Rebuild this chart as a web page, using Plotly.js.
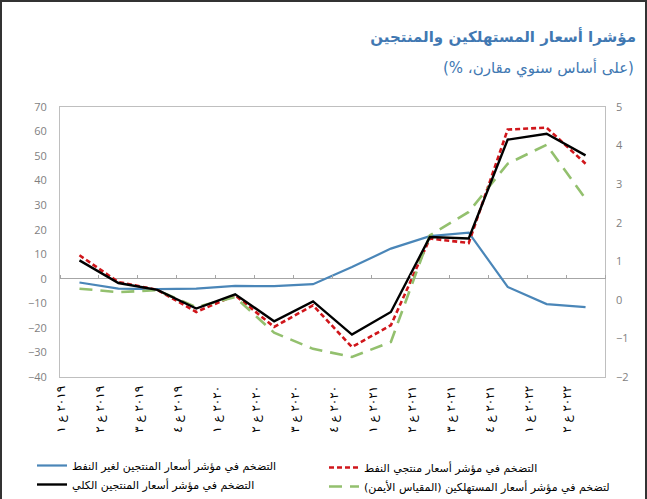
<!DOCTYPE html>
<html>
<head>
<meta charset="utf-8">
<script src="https://cdn.plot.ly/plotly-3.0.1.min.js"></script>
<style>
  html, body { margin: 0; padding: 0; background: #ffffff; }
  #frame { position: absolute; left: 0; top: 0; width: 647px; height: 499px; box-sizing: border-box;
           border-left: 2px solid #333; border-top: 2px solid #333; border-right: 2px solid #333; }
  #chart { position: absolute; left: 0; top: 0; width: 647px; height: 499px; }
</style>
</head>
<body>
<div id="chart"></div>
<div id="frame"></div>
<script>
// Quarter labels (2019 Q1 .. 2022 Q2)
const categories = [
  '٢٠١٩ ع ١', '٢٠١٩ ع ٢', '٢٠١٩ ع ٣', '٢٠١٩ ع ٤',
  '٢٠٢٠ ع ١', '٢٠٢٠ ع ٢', '٢٠٢٠ ع ٣', '٢٠٢٠ ع ٤',
  '٢٠٢١ ع ١', '٢٠٢١ ع ٢', '٢٠٢١ ع ٣', '٢٠٢١ ع ٤',
  '٢٠٢٢ ع ١', '٢٠٢٢ ع ٢'
];

// Producer price inflation, non-oil (left axis, %)
const ppiNonOil = [-1.5, -4.0, -4.2, -4.0, -2.9, -3.0, -2.2, 4.8, 12.3, 17.4, 18.8, -3.3, -10.3, -11.5];
// Producer price inflation, oil (left axis, %)
const ppiOil = [9.6, -1.3, -4.5, -13.5, -6.7, -19.6, -10.8, -27.8, -18.9, 16.4, 14.6, 60.8, 61.6, 46.9];
// Producer price inflation, total (left axis, %)
const ppiTotal = [7.5, -1.7, -4.5, -12.1, -6.3, -17.3, -9.2, -22.7, -13.5, 17.0, 16.4, 56.7, 59.1, 50.3];
// Consumer price inflation (right axis, %)
const cpi = [0.29, 0.20, 0.25, -0.19, 0.07, -0.85, -1.27, -1.48, -1.09, 1.67, 2.28, 3.53, 4.02, 2.62];

const names = {
  nonOil: 'التضخم في مؤشر أسعار المنتجين لغير النفط',
  oil: 'التضخم في مؤشر أسعار منتجي النفط',
  total: 'التضخم في مؤشر أسعار المنتجين الكلي',
  cpi: 'لتضخم في مؤشر أسعار المستهلكين (المقياس الأيمن)'
};

const RLE = '\u202B', PDF = '\u202C';
const titleText = '<b>مؤشرا أسعار المستهلكين والمنتجين</b>';
const subtitleText = RLE + '(على أساس سنوي مقارن، %)' + PDF;

const leftRange = [-40, 70];
const rightRange = [-2, 5];

const traces = [
  { x: categories, y: ppiNonOil, name: RLE + names.nonOil + PDF, type: 'scatter', mode: 'lines',
    line: { color: '#4a86b8', width: 2.2 }, xaxis: 'x', yaxis: 'y', legend: 'legend' },
  { x: categories, y: ppiOil, name: RLE + names.oil + PDF, type: 'scatter', mode: 'lines',
    line: { color: '#d0161b', width: 2.6, dash: '5px,3px' }, xaxis: 'x', yaxis: 'y', legend: 'legend2' },
  { x: categories, y: ppiTotal, name: RLE + names.total + PDF, type: 'scatter', mode: 'lines',
    line: { color: '#000000', width: 2.4 }, xaxis: 'x2', yaxis: 'y', legend: 'legend' },
  { x: categories, y: cpi, name: RLE + names.cpi + PDF, type: 'scatter', mode: 'lines',
    line: { color: '#93c06e', width: 2.6, dash: '13px,8px' }, xaxis: 'x', yaxis: 'y2', legend: 'legend2' }
];

const zeroFrac = (0 - leftRange[0]) / (leftRange[1] - leftRange[0]);

const legendFont = { family: 'DejaVu Sans, sans-serif', size: 11, color: '#000000' };

const layout = {
  width: 647, height: 499,
  margin: { l: 60, r: 42, t: 107, b: 122, pad: 0, autoexpand: false },
  paper_bgcolor: '#ffffff', plot_bgcolor: '#ffffff',
  font: { family: 'DejaVu Sans, sans-serif', color: '#000000' },
  showlegend: true,
  title: {
    text: titleText, xref: 'container', x: 636 / 647, xanchor: 'right',
    yref: 'container', y: 1 - 37 / 499, yanchor: 'middle',
    font: { family: 'DejaVu Sans, sans-serif', size: 15, color: '#4178b2' }
  },
  annotations: [{
    text: subtitleText, xref: 'paper', yref: 'paper',
    x: (636 - 60) / 545, xanchor: 'right', y: (377 - 68) / 270, yanchor: 'middle',
    showarrow: false, font: { family: 'DejaVu Sans, sans-serif', size: 15, color: '#4178b2' }
  }],
  xaxis: {
    type: 'category', range: [-0.5, categories.length - 0.5],
    showline: true, mirror: true, linecolor: '#bfbfbf', linewidth: 1,
    showgrid: false, zeroline: false, ticks: '',
    tickangle: -90, ticklabelshift: -18, ticklabelstandoff: 3,
    tickfont: { family: 'DejaVu Sans, sans-serif', size: 12, color: '#000000' }
  },
  xaxis2: {
    type: 'category', overlaying: 'x', anchor: 'free', position: zeroFrac, side: 'top',
    range: [-0.5, categories.length - 0.5],
    showline: false, showgrid: false, zeroline: false,
    ticks: 'outside', tickson: 'boundaries', ticklen: 4, tickcolor: '#a6a6a6', tickwidth: 1,
    showticklabels: false
  },
  yaxis: {
    range: leftRange, dtick: 10, showgrid: false,
    zeroline: true, zerolinecolor: '#a6a6a6', zerolinewidth: 1,
    showline: true, mirror: true, linecolor: '#bfbfbf', linewidth: 1,
    ticks: '', ticklabelstandoff: 10,
    tickfont: { family: 'Open Sans, sans-serif', size: 11, color: '#7f7f7f' }
  },
  yaxis2: {
    range: rightRange, dtick: 1, overlaying: 'y', side: 'right', showgrid: false,
    zeroline: false, showline: false, ticks: '', ticklabelstandoff: 10,
    tickfont: { family: 'Open Sans, sans-serif', size: 11, color: '#7f7f7f' }
  },
  legend: {
    orientation: 'v', xref: 'container', x: 32 / 647, xanchor: 'left',
    yref: 'container', y: 1 - 451 / 499, yanchor: 'top',
    tracegroupgap: 0, itemwidth: 30, font: legendFont, bgcolor: 'rgba(0,0,0,0)'
  },
  legend2: {
    orientation: 'v', xref: 'container', x: 324 / 647, xanchor: 'left',
    yref: 'container', y: 1 - 453 / 499, yanchor: 'top',
    tracegroupgap: 0, itemwidth: 30, font: legendFont, bgcolor: 'rgba(0,0,0,0)'
  }
};

Plotly.newPlot('chart', traces, layout, { displayModeBar: false, staticPlot: true });
</script>
</body>
</html>
